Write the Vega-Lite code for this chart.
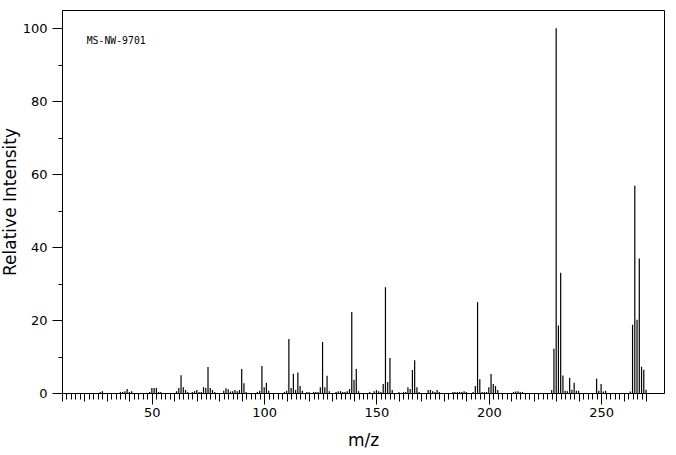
{
  "$schema": "https://vega.github.io/schema/vega-lite/v6.json",
  "width": 602,
  "height": 383,
  "autosize": {"type": "none"},
  "padding": {"left": 62, "top": 10, "right": 12, "bottom": 62},
  "background": "white",
  "config": {"view": {"stroke": "black", "strokeWidth": 1}, "font": "DejaVu Sans"},
  "datasets": {
    "peaks": [
      {"mz": 27, "intensity": 0.3}, {"mz": 28, "intensity": 0.5},
      {"mz": 36, "intensity": 0.3}, {"mz": 37, "intensity": 0.3}, {"mz": 38, "intensity": 0.5}, {"mz": 39, "intensity": 1.1}, {"mz": 40, "intensity": 0.3}, {"mz": 41, "intensity": 0.5},
      {"mz": 49, "intensity": 0.3}, {"mz": 50, "intensity": 1.4}, {"mz": 51, "intensity": 1.4}, {"mz": 52, "intensity": 1.4}, {"mz": 53, "intensity": 0.3}, {"mz": 54, "intensity": 0.3},
      {"mz": 61, "intensity": 0.5}, {"mz": 62, "intensity": 1.4}, {"mz": 63, "intensity": 4.9}, {"mz": 64, "intensity": 1.6}, {"mz": 65, "intensity": 0.8}, {"mz": 66, "intensity": 0.3},
      {"mz": 68, "intensity": 0.3}, {"mz": 69, "intensity": 0.5}, {"mz": 70, "intensity": 0.8}, {"mz": 71, "intensity": 0.3}, {"mz": 72, "intensity": 0.3}, {"mz": 73, "intensity": 1.6},
      {"mz": 74, "intensity": 1.4}, {"mz": 75, "intensity": 7.1}, {"mz": 76, "intensity": 1.4}, {"mz": 77, "intensity": 0.8}, {"mz": 78, "intensity": 0.3},
      {"mz": 82, "intensity": 0.6}, {"mz": 83, "intensity": 1.3}, {"mz": 84, "intensity": 1.0}, {"mz": 85, "intensity": 0.4}, {"mz": 86, "intensity": 0.5}, {"mz": 87, "intensity": 0.8},
      {"mz": 88, "intensity": 0.5}, {"mz": 89, "intensity": 0.8}, {"mz": 90, "intensity": 6.6}, {"mz": 91, "intensity": 2.7}, {"mz": 92, "intensity": 0.3},
      {"mz": 97, "intensity": 0.3}, {"mz": 98, "intensity": 0.6}, {"mz": 99, "intensity": 7.4}, {"mz": 100, "intensity": 1.6}, {"mz": 101, "intensity": 2.8}, {"mz": 102, "intensity": 0.6},
      {"mz": 109, "intensity": 0.3}, {"mz": 110, "intensity": 0.6}, {"mz": 111, "intensity": 14.8}, {"mz": 112, "intensity": 1.4}, {"mz": 113, "intensity": 5.3}, {"mz": 114, "intensity": 0.8},
      {"mz": 115, "intensity": 5.6}, {"mz": 116, "intensity": 1.9}, {"mz": 117, "intensity": 0.6}, {"mz": 119, "intensity": 0.3}, {"mz": 120, "intensity": 0.3},
      {"mz": 122, "intensity": 0.3}, {"mz": 123, "intensity": 0.3}, {"mz": 124, "intensity": 0.3}, {"mz": 125, "intensity": 1.6}, {"mz": 126, "intensity": 14.0}, {"mz": 127, "intensity": 1.6},
      {"mz": 128, "intensity": 4.7}, {"mz": 129, "intensity": 0.5}, {"mz": 132, "intensity": 0.3}, {"mz": 133, "intensity": 0.5}, {"mz": 134, "intensity": 0.5}, {"mz": 135, "intensity": 0.3},
      {"mz": 136, "intensity": 0.3}, {"mz": 137, "intensity": 0.5}, {"mz": 138, "intensity": 1.1}, {"mz": 139, "intensity": 22.2}, {"mz": 140, "intensity": 3.6}, {"mz": 141, "intensity": 6.6},
      {"mz": 142, "intensity": 0.5}, {"mz": 147, "intensity": 0.3}, {"mz": 149, "intensity": 0.5}, {"mz": 150, "intensity": 0.8}, {"mz": 151, "intensity": 0.5}, {"mz": 152, "intensity": 0.3},
      {"mz": 153, "intensity": 2.5}, {"mz": 154, "intensity": 29.0}, {"mz": 155, "intensity": 3.0}, {"mz": 156, "intensity": 9.6}, {"mz": 157, "intensity": 0.8},
      {"mz": 160, "intensity": 0.3}, {"mz": 162, "intensity": 0.3}, {"mz": 163, "intensity": 0.3}, {"mz": 164, "intensity": 1.6}, {"mz": 165, "intensity": 1.1}, {"mz": 166, "intensity": 6.3},
      {"mz": 167, "intensity": 9.0}, {"mz": 168, "intensity": 1.6}, {"mz": 169, "intensity": 0.3}, {"mz": 173, "intensity": 0.8}, {"mz": 174, "intensity": 0.8}, {"mz": 175, "intensity": 0.5},
      {"mz": 176, "intensity": 0.3}, {"mz": 177, "intensity": 0.8}, {"mz": 178, "intensity": 0.3}, {"mz": 184, "intensity": 0.3}, {"mz": 185, "intensity": 0.3}, {"mz": 186, "intensity": 0.3},
      {"mz": 187, "intensity": 0.3}, {"mz": 188, "intensity": 0.3}, {"mz": 189, "intensity": 0.5}, {"mz": 190, "intensity": 0.3}, {"mz": 193, "intensity": 0.3}, {"mz": 194, "intensity": 1.9},
      {"mz": 195, "intensity": 24.9}, {"mz": 196, "intensity": 3.8}, {"mz": 197, "intensity": 0.3}, {"mz": 198, "intensity": 0.3}, {"mz": 199, "intensity": 0.3}, {"mz": 200, "intensity": 1.6},
      {"mz": 201, "intensity": 5.2}, {"mz": 202, "intensity": 2.5}, {"mz": 203, "intensity": 1.9}, {"mz": 204, "intensity": 0.8},
      {"mz": 211, "intensity": 0.3}, {"mz": 212, "intensity": 0.4}, {"mz": 213, "intensity": 0.5}, {"mz": 214, "intensity": 0.3}, {"mz": 215, "intensity": 0.3},
      {"mz": 228, "intensity": 0.8}, {"mz": 229, "intensity": 12.1}, {"mz": 230, "intensity": 100}, {"mz": 231, "intensity": 18.5}, {"mz": 232, "intensity": 33.0}, {"mz": 233, "intensity": 4.8},
      {"mz": 234, "intensity": 0.6}, {"mz": 235, "intensity": 0.5}, {"mz": 236, "intensity": 4.2}, {"mz": 237, "intensity": 0.9}, {"mz": 238, "intensity": 2.8}, {"mz": 239, "intensity": 0.6},
      {"mz": 240, "intensity": 0.6}, {"mz": 248, "intensity": 3.9}, {"mz": 249, "intensity": 0.6}, {"mz": 250, "intensity": 2.5}, {"mz": 251, "intensity": 0.4}, {"mz": 252, "intensity": 0.6},
      {"mz": 263, "intensity": 0.4}, {"mz": 264, "intensity": 18.7}, {"mz": 265, "intensity": 56.8}, {"mz": 266, "intensity": 20.1}, {"mz": 267, "intensity": 36.9}, {"mz": 268, "intensity": 7.2},
      {"mz": 269, "intensity": 6.4}, {"mz": 270, "intensity": 0.9}
    ],
    "note": [{"label": "MS-NW-9701", "mz": 21, "intensity": 95.6}]
  },
  "resolve": {"axis": {"x": "independent", "y": "independent"}},
  "layer": [
    {
      "data": {"name": "peaks"},
      "mark": {"type": "rule", "color": "black", "strokeWidth": 1.2},
      "encoding": {
        "x": {
          "field": "mz", "type": "quantitative",
          "scale": {"domain": [10, 278], "nice": false, "zero": false},
          "axis": {
            "orient": "bottom",
            "values": [50, 100, 150, 200, 250],
            "tickSize": 11,
            "labelFontSize": 13,
            "labelColor": "black",
            "labelPadding": 2,
            "tickColor": "black",
            "domainColor": "black",
            "grid": false,
            "title": "m/z",
            "titleFontSize": 17,
            "titleFontWeight": "normal",
            "titleColor": "black",
            "titlePadding": 13
          }
        },
        "y": {
          "field": "intensity", "type": "quantitative",
          "scale": {"domain": [0, 105], "nice": false},
          "axis": {
            "orient": "left",
            "values": [0, 20, 40, 60, 80, 100],
            "tickSize": 10,
            "labelFontSize": 13,
            "labelColor": "black",
            "labelPadding": 5,
            "tickColor": "black",
            "domainColor": "black",
            "grid": false,
            "title": "Relative Intensity",
            "titleFontSize": 17,
            "titleFontWeight": "normal",
            "titleColor": "black",
            "titlePadding": 3
          }
        },
        "y2": {"datum": 0}
      }
    },
    {
      "data": {"name": "peaks"},
      "mark": {"type": "rule", "opacity": 0},
      "encoding": {
        "x": {
          "field": "mz", "type": "quantitative",
          "axis": {
            "orient": "bottom",
            "values": [10, 20, 30, 40, 60, 70, 80, 90, 110, 120, 130, 140, 160, 170, 180, 190, 210, 220, 230, 240, 260, 270],
            "tickSize": 8, "tickColor": "black", "labels": false, "domain": false, "grid": false, "title": null
          }
        },
        "y": {
          "field": "intensity", "type": "quantitative",
          "axis": {
            "orient": "left",
            "values": [10, 30, 50, 70, 90],
            "tickSize": 4, "tickColor": "black", "labels": false, "domain": false, "grid": false, "title": null
          }
        },
        "y2": {"datum": 0}
      }
    },
    {
      "data": {"name": "peaks"},
      "mark": {"type": "rule", "opacity": 0},
      "encoding": {
        "x": {
          "field": "mz", "type": "quantitative",
          "axis": {
            "orient": "bottom",
            "values": [12,14,16,18,22,24,26,28,32,34,36,38,42,44,46,48,52,54,56,58,62,64,66,68,72,74,76,78,82,84,86,88,92,94,96,98,102,104,106,108,112,114,116,118,122,124,126,128,132,134,136,138,142,144,146,148,152,154,156,158,162,164,166,168,172,174,176,178,182,184,186,188,192,194,196,198,202,204,206,208,212,214,216,218,222,224,226,228,232,234,236,238,242,244,246,248,252,254,256,258,262,264,266,268],
            "tickSize": 6, "tickColor": "black", "labels": false, "domain": false, "grid": false, "title": null
          }
        },
        "y": {"field": "intensity", "type": "quantitative", "axis": null},
        "y2": {"datum": 0}
      }
    },
    {
      "data": {"name": "note"},
      "mark": {"type": "text", "font": "DejaVu Sans Mono", "fontSize": 9.8, "align": "left", "baseline": "alphabetic", "color": "black"},
      "encoding": {
        "x": {"field": "mz", "type": "quantitative", "axis": null},
        "y": {"field": "intensity", "type": "quantitative", "axis": null},
        "text": {"field": "label"}
      }
    }
  ]
}
